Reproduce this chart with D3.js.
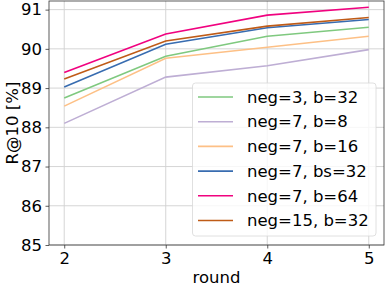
<!DOCTYPE html>
<html><head><meta charset="utf-8">
<script src="https://cdn.jsdelivr.net/npm/d3@7"></script>
<style>body{margin:0;background:#fff}svg{display:block}text{font-family:"DejaVu Sans",sans-serif}</style>
</head><body><svg id="c" width="387" height="290"></svg>
<script>
const rounds = [2, 3, 4, 5];
const seriesNames = ["neg=3, b=32", "neg=7, b=8", "neg=7, b=16", "neg=7, bs=32", "neg=7, b=64", "neg=15, b=32"];
const seriesColors = ["#7fc97f", "#beaed4", "#fdc086", "#386cb0", "#f0027f", "#bf5b17"];
const neg3b32 = [88.75, 89.81, 90.32, 90.55];
const neg7b8 = [88.10, 89.28, 89.57, 89.98];
const neg7b16 = [88.54, 89.76, 90.04, 90.32];
const neg7bs32 = [89.03, 90.12, 90.54, 90.75];
const neg7b64 = [89.40, 90.38, 90.86, 91.06];
const neg15b32 = [89.23, 90.20, 90.58, 90.80];
const seriesValues = [neg3b32, neg7b8, neg7b16, neg7bs32, neg7b64, neg15b32];
const yTicks = [85, 86, 87, 88, 89, 90, 91];
const xTicks = [2, 3, 4, 5];

const svg = d3.select("#c");
const L = 49, R = 384, T = 1, B = 245;
const x = d3.scaleLinear().domain([1.85, 5.15]).range([L, R]);
const y = d3.scaleLinear().domain([85, 91.22]).range([B, T]);
const fs = 16.5;

// grid
svg.append("g").selectAll("line").data(xTicks).join("line")
  .attr("x1", d => x(d)).attr("x2", d => x(d)).attr("y1", T).attr("y2", B)
  .attr("stroke", "#d0d0d0").attr("stroke-width", 0.9);
svg.append("g").selectAll("line").data(yTicks).join("line")
  .attr("x1", L).attr("x2", R).attr("y1", d => y(d)).attr("y2", d => y(d))
  .attr("stroke", "#d0d0d0").attr("stroke-width", 0.9);

// lines
const line = d3.line().x((d, i) => x(rounds[i])).y(d => y(d));
seriesValues.forEach((vals, k) => {
  svg.append("path").datum(vals).attr("d", line).attr("fill", "none")
    .attr("stroke", seriesColors[k]).attr("stroke-width", 1.6);
});

// axes
const xa = svg.append("g").attr("transform", `translate(0,${B})`)
  .call(d3.axisBottom(x).tickValues(xTicks).tickSize(3.5).tickPadding(3.5).tickFormat(d3.format("d")));
const ya = svg.append("g").attr("transform", `translate(${L},0)`)
  .call(d3.axisLeft(y).tickValues(yTicks).tickSize(3.5).tickPadding(3.5).tickFormat(d3.format("d")));
[xa, ya].forEach(a => {
  a.select(".domain").remove();
  a.selectAll("line").attr("stroke", "#333").attr("stroke-width", 0.8);
  a.selectAll("text").attr("font-size", fs).attr("fill", "#000").attr("font-family", "DejaVu Sans");
});
svg.append("rect").attr("x", L).attr("y", T).attr("width", R - L).attr("height", B - T)
  .attr("fill", "none").attr("stroke", "#333").attr("stroke-width", 0.8);

// labels
svg.append("text").attr("x", (L + R) / 2).attr("y", 283).attr("text-anchor", "middle")
  .attr("font-size", fs).text("round");
svg.append("text").attr("transform", `translate(18,${(T + B) / 2}) rotate(-90)`)
  .attr("text-anchor", "middle").attr("font-size", fs).text("R@10 [%]");

// legend
const lg = svg.append("g");
lg.append("rect").attr("x", 192.5).attr("y", 83).attr("width", 183.5).attr("height", 153).attr("rx", 3)
  .attr("fill", "#fff").attr("fill-opacity", 0.8).attr("stroke", "#d8d8d8").attr("stroke-width", 0.8);
seriesNames.forEach((n, k) => {
  const cy = 97 + k * 24.7;
  lg.append("line").attr("x1", 198).attr("x2", 233).attr("y1", cy).attr("y2", cy)
    .attr("stroke", seriesColors[k]).attr("stroke-width", 1.6);
  lg.append("text").attr("x", 247).attr("y", cy).attr("dy", "0.35em").attr("font-size", fs).text(n);
});
</script></body></html>
